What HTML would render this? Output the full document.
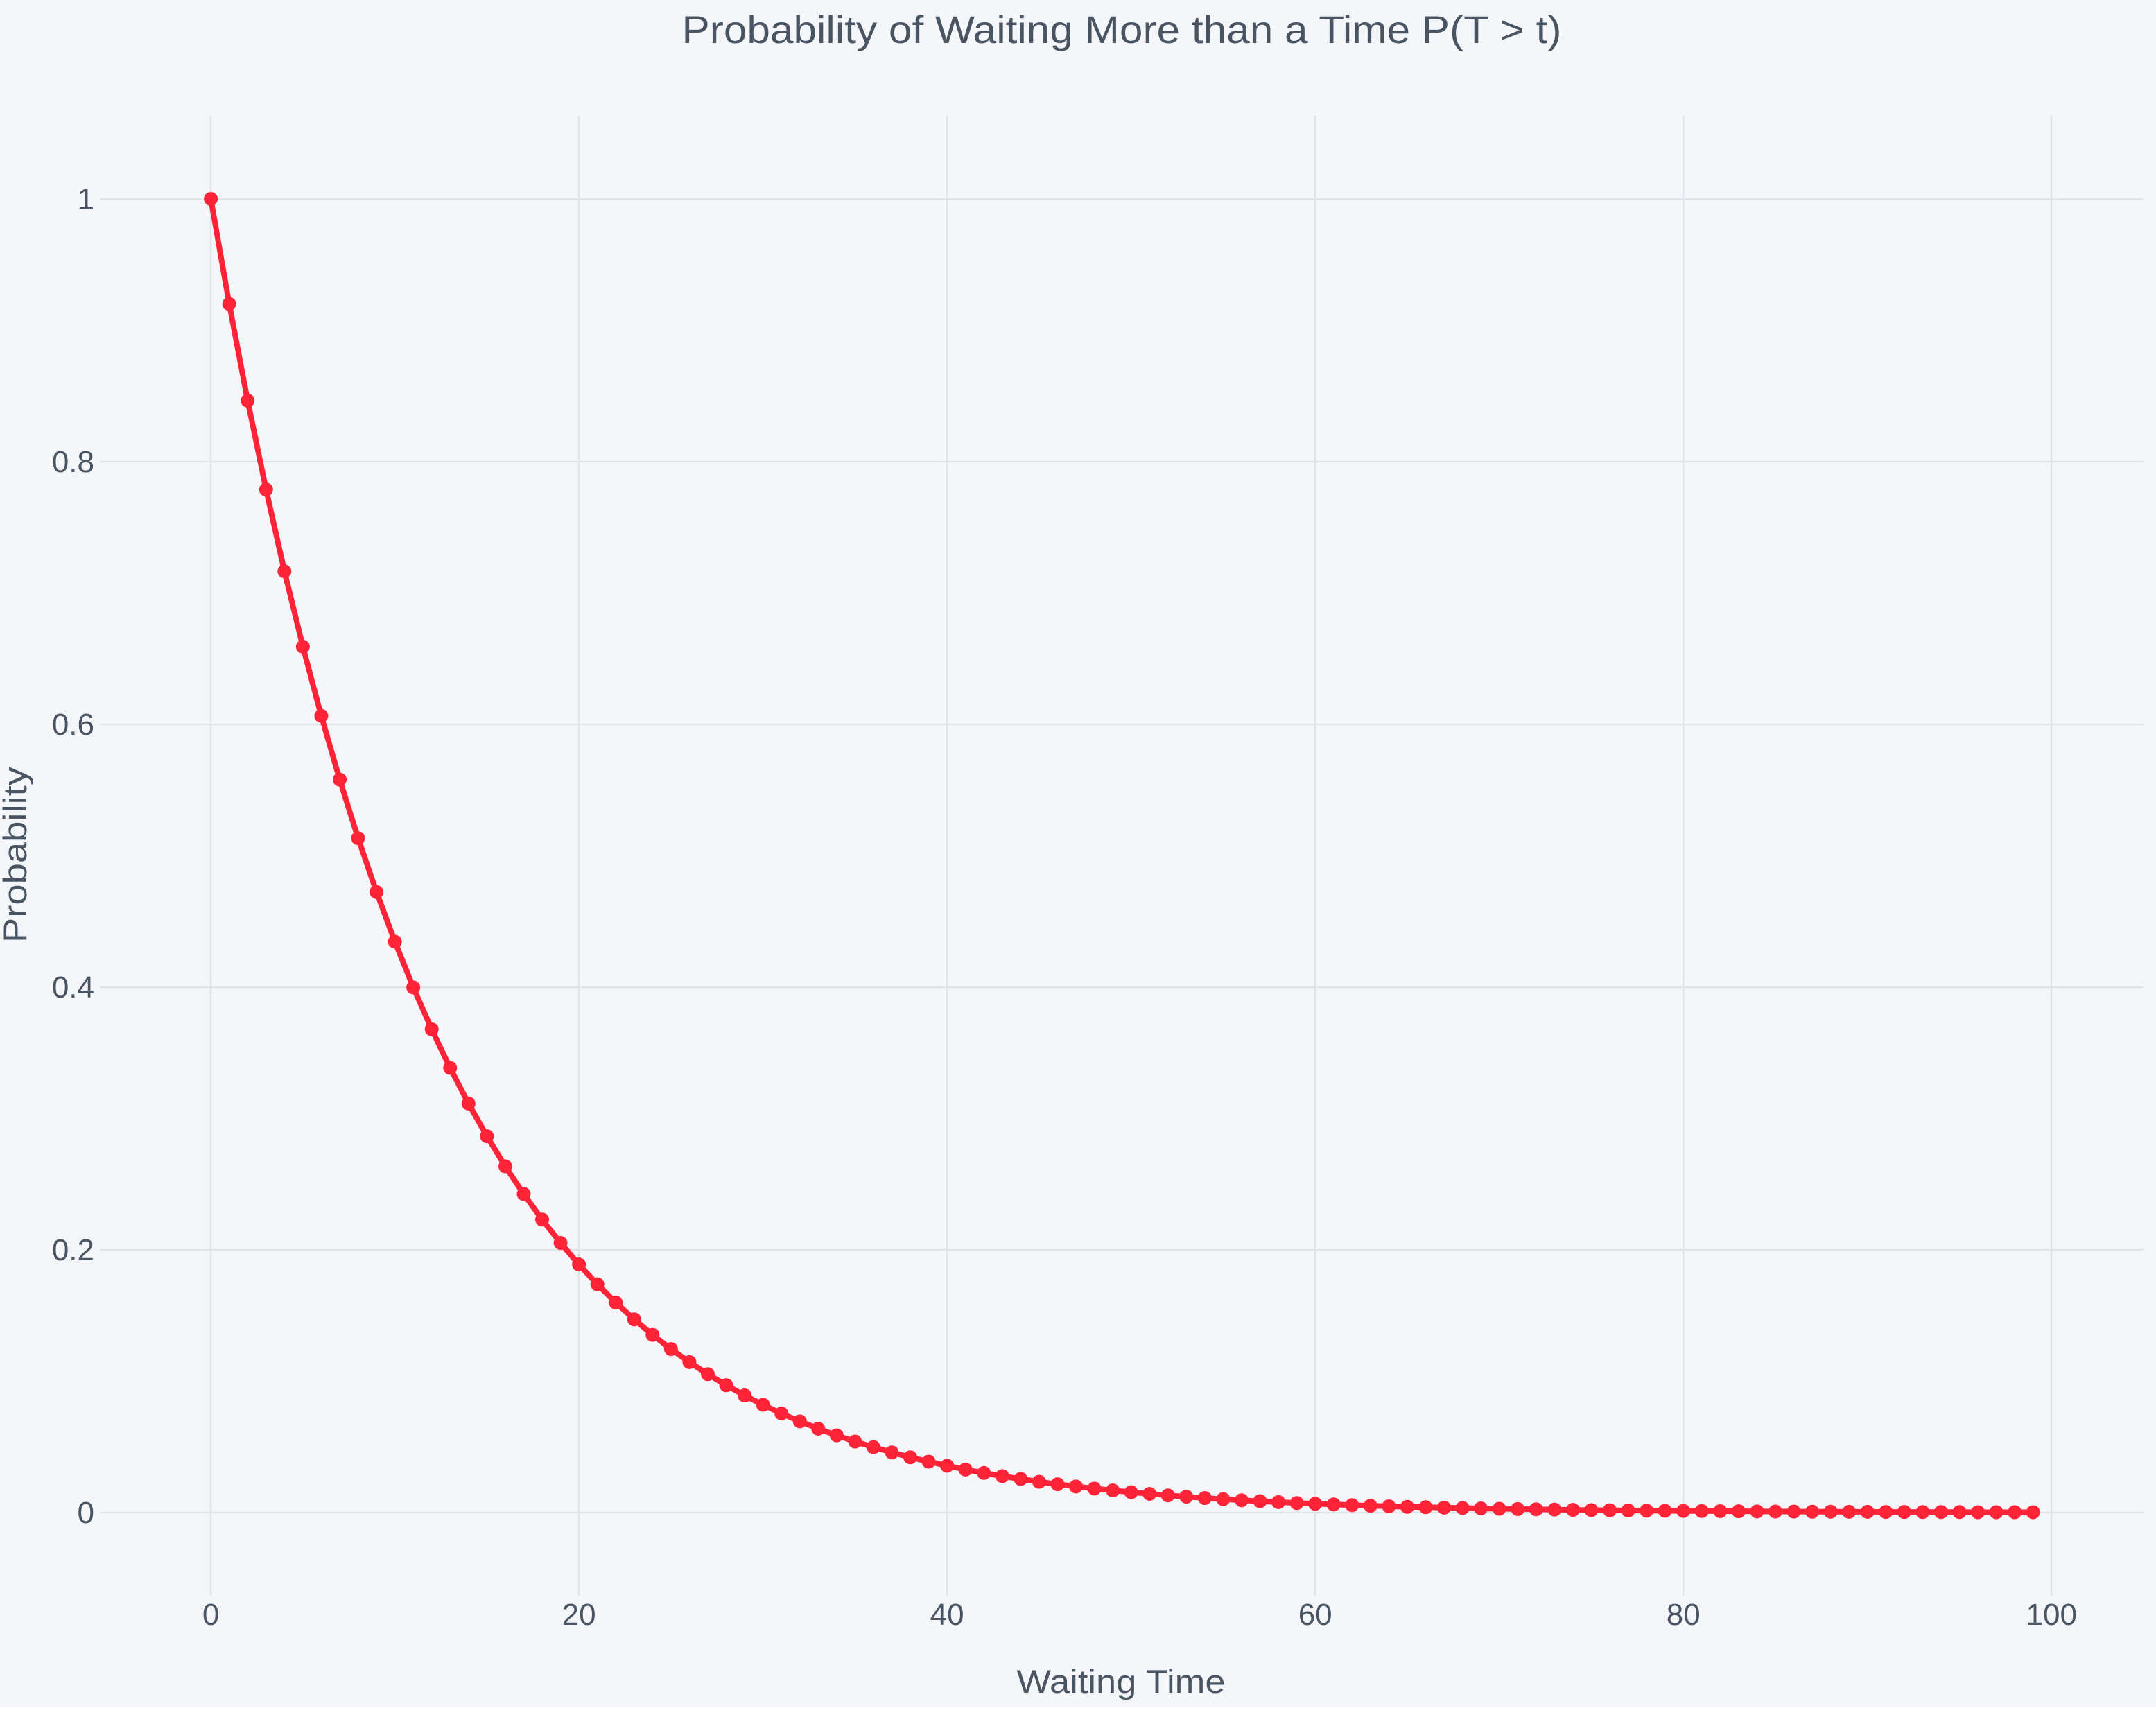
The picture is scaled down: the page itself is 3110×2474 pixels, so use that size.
<!DOCTYPE html>
<html><head><meta charset="utf-8"><style>
html,body{margin:0;padding:0;background:#fff;}
svg{display:block;font-family:"Liberation Sans","DejaVu Sans",sans-serif;}
</style></head><body>
<svg id="chart" width="3110" height="2474" viewBox="0 0 3110 2474">
<rect x="0" y="0" width="3110" height="2462" fill="#f5f6fa"/>
<g id="grid"></g>
<g id="ticks"></g>
<g id="series"></g>
<text x="1618" y="62" font-size="56" fill="#4a5563" text-anchor="middle" textLength="1269" lengthAdjust="spacingAndGlyphs">Probability of Waiting More than a Time P(T &gt; t)</text>
<text x="1617" y="2442" font-size="47" fill="#4a5563" text-anchor="middle" textLength="301" lengthAdjust="spacingAndGlyphs">Waiting Time</text>
<text transform="translate(38,1233) rotate(-90)" font-size="47" fill="#4a5563" text-anchor="middle" textLength="254" lengthAdjust="spacingAndGlyphs">Probability</text>
</svg>
<script>
const times = [0,1,2,3,4,5,6,7,8,9,10,11,12,13,14,15,16,17,18,19,20,21,22,23,24,25,26,27,28,29,30,31,32,33,34,35,36,37,38,39,40,41,42,43,44,45,46,47,48,49,50,51,52,53,54,55,56,57,58,59,60,61,62,63,64,65,66,67,68,69,70,71,72,73,74,75,76,77,78,79,80,81,82,83,84,85,86,87,88,89,90,91,92,93,94,95,96,97,98,99];
const probs = [1.0000,.9200,.8465,.7788,.7165,.6592,.6065,.5580,.5134,.4724,.4346,.3998,.3679,.3385,.3114,.2865,.2636,.2425,.2231,.2053,.1889,.1738,.1599,.1471,.1353,.1245,.1146,.1054,.0970,.0892,.0821,.0755,.0695,.0639,.0588,.0541,.0498,.0458,.0421,.0388,.0357,.0328,.0302,.0278,.0256,.0235,.0216,.0199,.0183,.0169,.0155,.0143,.0131,.0121,.0111,.0102,.0094,.0087,.0080,.0073,.0067,.0062,.0057,.0052,.0048,.0044,.0041,.0038,.0035,.0032,.0029,.0027,.0025,.0023,.0021,.0019,.0018,.0016,.0015,.0014,.0013,.0012,.0011,.0010,.0009,.0008,.0008,.0007,.0007,.0006,.0006,.0005,.0005,.0004,.0004,.0004,.0003,.0003,.0003,.0003];
const xTicks = [0,20,40,60,80,100];
const xTickLabels = ["0","20","40","60","80","100"];
const yTicks = [0,0.2,0.4,0.6,0.8,1];
const yTickLabels = ["0","0.2","0.4","0.6","0.8","1"];

const L=144,R=3092,T=167,B=2302;
const xMin=-6.03,xMax=105.0,yMin=-0.0633,yMax=1.0633;
const X=v=>L+(v-xMin)/(xMax-xMin)*(R-L);
const Y=v=>B-(v-yMin)/(yMax-yMin)*(B-T);
const NS="http://www.w3.org/2000/svg";
function mk(tag,attrs,parent){const e=document.createElementNS(NS,tag);for(const k in attrs)e.setAttribute(k,attrs[k]);parent.appendChild(e);return e;}
const grid=document.getElementById('grid'),ticks=document.getElementById('ticks'),series=document.getElementById('series');
xTicks.forEach((t,i)=>{
  const l=mk('line',{x1:X(t),x2:X(t),y1:T,y2:B,stroke:'#dfe4ea','stroke-width':2.5},grid);
  
  
  const tx=mk('text',{x:X(t),y:2344,'font-size':44,fill:'#4a5563','text-anchor':'middle'},ticks);
  tx.textContent=xTickLabels[i];
  
  
});
yTicks.forEach((t,i)=>{
  const l=mk('line',{x1:L,x2:R,y1:Y(t),y2:Y(t),stroke:'#dfe4ea','stroke-width':2.5},grid);
  
  
  const tx=mk('text',{x:136,y:Y(t)+15,'font-size':44,fill:'#4a5563','text-anchor':'end'},ticks);
  tx.textContent=yTickLabels[i];
  
  
});
const pts=times.map((t,i)=>X(t).toFixed(1)+','+Y(probs[i]).toFixed(1)).join(' ');
const pl=mk('polyline',{points:pts,fill:'none',stroke:'#ff2338','stroke-width':8,'stroke-linejoin':'round'},series);


times.forEach((t,i)=>{
  const c=mk('circle',{cx:X(t),cy:Y(probs[i]),r:10,fill:'#ff2338'},series);
  
  
});
</script>
</body></html>
